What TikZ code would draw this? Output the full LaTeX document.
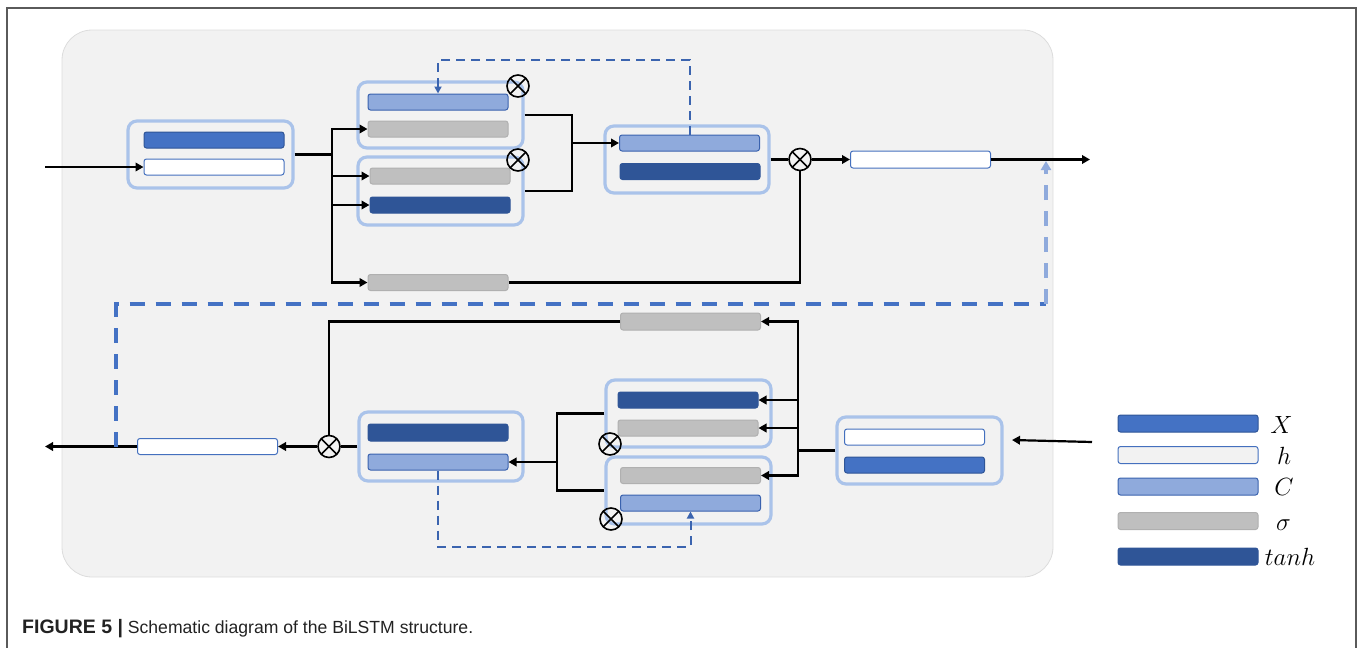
\documentclass[tikz,border=0pt]{standalone}
\usepackage{fontspec}
\usetikzlibrary{arrows.meta}
\newfontfamily\capfont{Liberation Sans}

\definecolor{bgfill}{HTML}{F2F2F2}
\definecolor{bgline}{HTML}{DCDCDC}
\definecolor{framecol}{HTML}{5A5A5A}
\definecolor{grpcol}{HTML}{AAC3EA}
\definecolor{cX}{HTML}{4472C4}
\definecolor{cXd}{HTML}{2F5597}
\definecolor{cH}{HTML}{4470BE}
\definecolor{cC}{HTML}{8FAADC}
\definecolor{cCd}{HTML}{3A62AE}
\definecolor{cS}{HTML}{BFBFBF}
\definecolor{cSd}{HTML}{B0B0B0}
\definecolor{cT}{HTML}{2F5597}
\definecolor{fbcol}{HTML}{3B64AF}
\definecolor{longcol}{HTML}{4472C4}
\definecolor{lightcol}{HTML}{8FAADC}
\definecolor{captext}{HTML}{222222}

\tikzset{
  bar/.style={draw, rounded corners=2.5pt, minimum width=140pt, minimum height=16pt,
    inner sep=0pt, line width=1pt},
  xbar/.style={bar, fill=cX, draw=cXd},
  hbar/.style={bar, fill=white, draw=cH},
  cbar/.style={bar, fill=cC, draw=cCd},
  sbar/.style={bar, fill=cS, draw=cSd},
  tbar/.style={bar, fill=cT, draw=cT},
  group/.style={draw=grpcol, line width=3.2pt, rounded corners=9pt, fill=bgfill,
    minimum width=165pt, minimum height=67pt, inner sep=0pt},
  mult/.style={circle, draw, line width=1.6pt, minimum size=22pt, inner sep=0pt,
    path picture={\draw[line width=1.6pt]
      (path picture bounding box.north west) -- (path picture bounding box.south east)
      (path picture bounding box.north east) -- (path picture bounding box.south west);}},
  conn/.style={line width=2.2pt, black},
  arr/.style={conn, -{Triangle[length=8pt,width=8.5pt]}},
  fb/.style={line width=2pt, fbcol, dash pattern=on 9pt off 6pt,
    -{Triangle[length=7pt,width=7pt]}},
  longdash/.style={line width=3.2pt, longcol, dash pattern=on 15pt off 11pt},
  lightdash/.style={line width=3.2pt, lightcol, dash pattern=on 15pt off 11pt,
    -{Triangle[length=9pt,width=10pt]}},
  legtext/.style={anchor=base, inner sep=0pt, font=\fontsize{26}{30}\selectfont}
}

\begin{document}
\begin{tikzpicture}[x=1pt,y=-1pt]
\useasboundingbox (0,0) rectangle (1358,648);

% outer frame and shaded panel
\draw[framecol, line width=1.2pt] (7,648) -- (7,8) -- (1356,8) -- (1356,648);
\draw[bgline, fill=bgfill, line width=0.8pt, rounded corners=30pt] (62,30) rectangle (1053,577);

% ---------- forward direction ----------
\node[group] (box1) at (210.5,154.5) {};
\node[xbar] (x1) at (214,140) {};
\node[hbar] (h1) at (214,167) {};

\node[group, minimum height=66pt] (boxA) at (440.5,115) {};
\node[cbar] (cA) at (438,102) {};
\node[sbar] (sA) at (438,129) {};

\node[group, minimum height=68pt] (boxB) at (440.5,191) {};
\node[sbar] (sB) at (440,176) {};
\node[tbar] (tB) at (440,205) {};

\node[sbar] (sT) at (438,282.5) {};

\node[group, minimum width=164pt] (boxC) at (687,159.5) {};
\node[cbar] (cC) at (689.5,143) {};
\node[tbar] (tC) at (690,171.5) {};

\node[mult] (mA) at (518,86) {};
\node[mult] (mB) at (518,160) {};
\node[mult] (m1) at (800,159.5) {};

\node[hbar, minimum height=17pt] (hT) at (920.5,159.5) {};

\coordinate (inT) at (45,167);
\coordinate (outT) at (1090,159.5);
\coordinate (split1) at (332,154.5);
\coordinate (j1) at (572,143);

\draw[arr] (inT) -- (h1.west);
\draw[conn] (box1.east) -- (split1);
\draw[arr] (split1) |- (sA.west);
\draw[arr] (split1) |- (sB.west);
\draw[arr] (split1) |- (tB.west);
\draw[arr] (split1) |- (sT.west);
\draw[conn] (boxA.east) -| (j1) |- (boxB.east);
\draw[arr] (j1) -- (cC.west);
\draw[fb] (cC.north) -- ++(0,-75) -| (cA.north);
\draw[conn] (boxC.east) -- (m1.west);
\draw[arr] (m1.east) -- (hT.west);
\draw[conn] (sT.east) -| (m1.south);
\draw[arr] (hT.east) -- (outT);

% ---------- backward direction ----------
\node[group] (boxD) at (919.5,450.5) {};
\node[hbar] (hD) at (914.5,437) {};
\node[xbar] (xD) at (914.5,465) {};

\node[sbar, minimum height=17pt] (sL) at (690.5,321.5) {};

\node[group] (boxE) at (688.5,413.5) {};
\node[tbar] (tE) at (688,400) {};
\node[sbar] (sE) at (688,428) {};

\node[group] (boxF) at (688.5,490.5) {};
\node[sbar] (sF) at (690.5,475.5) {};
\node[cbar] (cF) at (690.5,503) {};

\node[group, minimum width=164pt, minimum height=69pt] (boxG) at (441,446.5) {};
\node[tbar, minimum height=17pt] (tG) at (438,432.5) {};
\node[cbar] (cG) at (438,462) {};

\node[mult] (mE) at (610,444) {};
\node[mult] (mF) at (611,519) {};
\node[mult] (mG) at (329,446.5) {};

\node[hbar] (hB) at (207.5,446.5) {};

\coordinate (inB) at (1092,442);
\coordinate (inBtip) at (1012,440);
\coordinate (outB) at (45,446.5);
\coordinate (split2) at (798,450.5);
\coordinate (j2) at (557,462);

\draw[arr] (inB) -- (inBtip);
\draw[conn] (boxD.west) -- (split2);
\draw[arr] (split2) |- (sL.east);
\draw[arr] (split2) |- (tE.east);
\draw[arr] (split2) |- (sE.east);
\draw[arr] (split2) |- (sF.east);
\draw[conn] (sL.west) -| (mG.north);
\draw[conn] (boxE.west) -| (j2) |- (boxF.west);
\draw[arr] (j2) -- (cG.east);
\draw[fb] (cG.south) -- ++(0,76) -| (cF.south);
\draw[conn] (boxG.west) -- (mG.east);
\draw[arr] (mG.west) -- (hB.east);
\draw[arr] (hB.west) -- (outB);

% ---------- link between the two directions ----------
\coordinate (dA) at (116,446.5);
\coordinate (dB) at (1046,304);
\coordinate (dC) at (1046,161);
\draw[longdash] (dA) |- (dB);
\draw[lightdash] (dB) -- (dC);

% ---------- legend ----------
\node[xbar, minimum height=17pt] (lX) at (1188,423.5) {};
\node[hbar, fill=bgfill, minimum height=17pt] (lH) at (1188,455) {};
\node[cbar, minimum height=17pt] (lC) at (1188,486.5) {};
\node[sbar, minimum height=17pt] (lS) at (1188,521) {};
\node[tbar, minimum height=17pt] (lT) at (1188,556.5) {};
\node[legtext] (tX) at (1281.5,433) {$X$};
\node[legtext] (tH) at (1284,464) {$h$};
\node[legtext] (tCl) at (1284,495) {$C$};
\node[legtext] (tS) at (1283.5,530) {$\sigma$};
\node[legtext] (tT) at (1290,565) {$tanh$};

% ---------- caption ----------
\node[anchor=base west, inner sep=0pt, text=captext] (cap) at (22,633)
  {\capfont{\fontsize{19.5}{22}\selectfont\bfseries FIGURE 5 |}\fontsize{17.6}{22}\selectfont{} Schematic diagram of the BiLSTM structure.};
\end{tikzpicture}
\end{document}
